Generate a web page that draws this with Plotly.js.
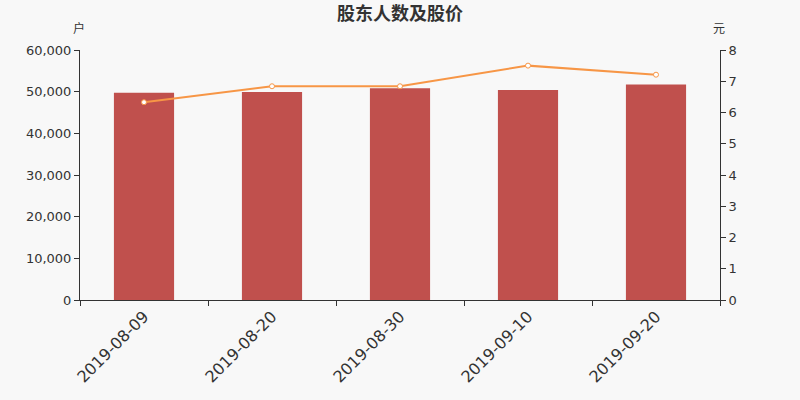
<!DOCTYPE html>
<html>
<head>
<meta charset="utf-8">
<script src="https://cdn.plot.ly/plotly-3.0.1.min.js"></script>
<style>
  html, body { margin: 0; padding: 0; background: #f8f8f8; }
  #chart { width: 800px; height: 400px; }
</style>
</head>
<body>
<div id="chart"></div>
<script>
  var dates = ['2019-08-09', '2019-08-20', '2019-08-30', '2019-09-10', '2019-09-20'];
  var holders = [49750, 49900, 50800, 50400, 51700];
  var prices = [6.33, 6.84, 6.84, 7.50, 7.21];

  var bars = {
    x: dates,
    y: holders,
    type: 'bar',
    width: 0.47,
    marker: {color: '#c0504d'},
    hoverinfo: 'x+y'
  };

  var line = {
    x: dates,
    y: prices,
    yaxis: 'y2',
    type: 'scatter',
    mode: 'lines+markers',
    line: {color: '#f79646', width: 2},
    marker: {size: 5, color: '#ffffff', line: {color: '#f79646', width: 1}}
  };

  var layout = {
    width: 800,
    height: 400,
    paper_bgcolor: '#f8f8f8',
    plot_bgcolor: '#f8f8f8',
    font: {family: 'DejaVu Sans, sans-serif', color: '#333'},
    margin: {l: 80, r: 80, t: 50, b: 100},
    showlegend: false,
    title: {
      text: '<b>股东人数及股价</b>',
      xref: 'paper', x: 0.5,
      yref: 'container', y: 0.967, yanchor: 'middle',
      font: {size: 18, color: '#333', family: 'Noto Sans CJK SC, sans-serif'}
    },
    xaxis: {
      type: 'category',
      tickson: 'boundaries',
      ticks: 'outside',
      ticklen: 5,
      tickcolor: '#333',
      showline: true,
      linecolor: '#333',
      linewidth: 1,
      tickangle: -45,
      tickfont: {size: 16, color: '#333'},
      showgrid: false
    },
    yaxis: {
      range: [0, 60000],
      tickvals: [0, 10000, 20000, 30000, 40000, 50000, 60000],
      ticktext: ['0', '10,000', '20,000', '30,000', '40,000', '50,000', '60,000'],
      ticks: 'outside',
      ticklen: 5,
      tickcolor: '#333',
      showline: true,
      linecolor: '#333',
      showgrid: false,
      zeroline: false,
      tickfont: {size: 13, color: '#333'}
    },
    yaxis2: {
      overlaying: 'y',
      side: 'right',
      range: [0, 8],
      dtick: 1,
      ticks: 'outside',
      ticklen: 5,
      tickcolor: '#333',
      showline: true,
      linecolor: '#333',
      showgrid: false,
      zeroline: false,
      tickfont: {size: 13, color: '#333'}
    },
    annotations: [
      {text: '户', xref: 'paper', yref: 'paper', x: -0.002, y: 1.088,
       xanchor: 'center', yanchor: 'middle',
       showarrow: false, font: {size: 12, color: '#333', family: 'Noto Sans CJK SC'}},
      {text: '元', xref: 'paper', yref: 'paper', x: 0.998, y: 1.088,
       xanchor: 'center', yanchor: 'middle',
       showarrow: false, font: {size: 12, color: '#333', family: 'Noto Sans CJK SC'}}
    ]
  };

  Plotly.newPlot('chart', [bars, line], layout, {displayModeBar: false, staticPlot: true});
</script>
</body>
</html>
